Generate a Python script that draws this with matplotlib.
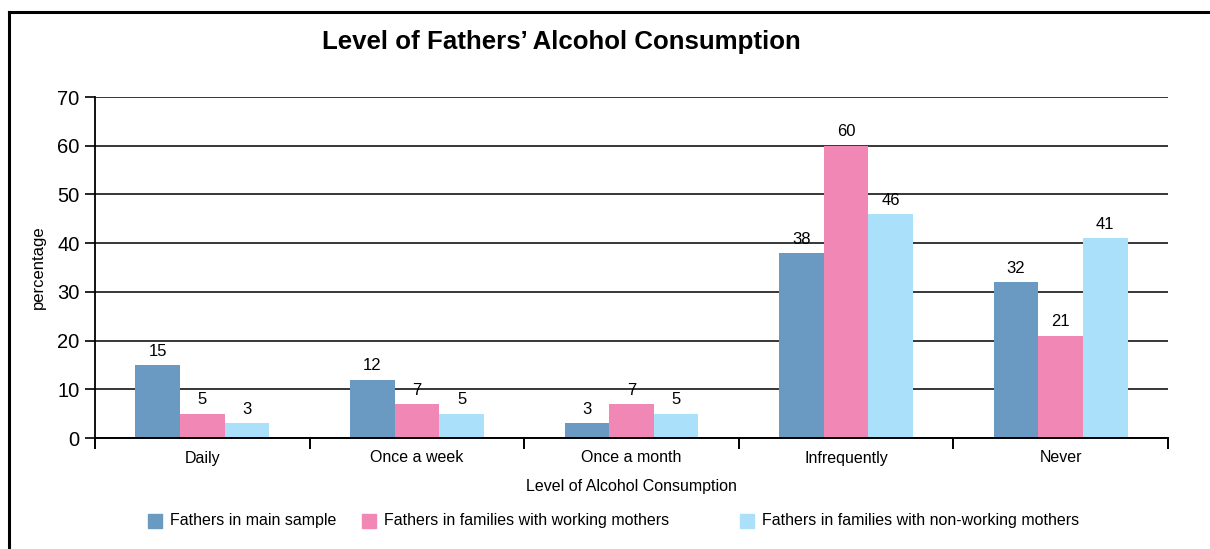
import matplotlib.pyplot as plt
import numpy as np
from matplotlib.lines import Line2D
from matplotlib.patches import Rectangle

plt.rcParams["font.family"] = ["Liberation Sans", "DejaVu Sans"]

categories = ["Daily", "Once a week", "Once a month", "Infrequently", "Never"]
series_names = [
    "Fathers in main sample",
    "Fathers in families with working mothers",
    "Fathers in families with non-working mothers",
]
main_sample = [15, 12, 3, 38, 32]
working_mothers = [5, 7, 7, 60, 21]
non_working_mothers = [3, 5, 5, 46, 41]
y_ticks = [0, 10, 20, 30, 40, 50, 60, 70]

colors = ["#6a9ac2", "#f087b4", "#aae0f9"]

W, H = 1210, 549
fig = plt.figure(figsize=(W / 100, H / 100), dpi=100)

# axes placed in pixel terms to match the reference
left, right, top, bottom = 95, 1168, 97, 438
ax = fig.add_axes([left / W, 1 - bottom / H, (right - left) / W, (bottom - top) / H])

x = np.arange(len(categories))
bw = 0.208
for i, vals in enumerate([main_sample, working_mothers, non_working_mothers]):
    bars = ax.bar(x + (i - 1) * bw, vals, width=bw, color=colors[i], zorder=2)
    for b, v in zip(bars, vals):
        ax.text(b.get_x() + b.get_width() / 2, v + 1.3, str(v),
                ha="center", va="bottom", fontsize=12)

ax.set_xlim(-0.5, len(categories) - 0.5)
ax.set_ylim(0, 70)
ax.set_yticks(y_ticks)
ax.tick_params(axis="y", labelsize=14.5, length=7, width=1.2, pad=4)
ax.yaxis.grid(True, color="black", linewidth=1.1, zorder=0)
ax.set_axisbelow(True)

ax.set_xticks(x)
ax.set_xticklabels(categories, fontsize=11.5)
ax.set_xticks(np.arange(-0.5, len(categories)), minor=True)
ax.tick_params(axis="x", which="major", length=0, pad=9)
ax.tick_params(axis="x", which="minor", length=8, width=1.4, direction="out")

for s in ["top", "right"]:
    ax.spines[s].set_visible(False)
ax.spines["left"].set_linewidth(1.3)
ax.spines["bottom"].set_linewidth(1.4)

ax.set_ylabel("percentage", fontsize=12, labelpad=8)
ax.set_xlabel("Level of Alcohol Consumption", fontsize=11.5, labelpad=10)

fig.text(561 / W, 1 - 42 / H, "Level of Fathers\u2019 Alcohol Consumption",
         ha="center", va="center", fontsize=18.6, fontweight="bold")

# legend drawn by hand to keep the uneven spacing
legend_x = [148, 362, 740]
ly = 521
for lx, name, c in zip(legend_x, series_names, colors):
    fig.add_artist(Rectangle((lx / W, 1 - (ly + 7) / H), 14 / W, 14 / H,
                             transform=fig.transFigure, color=c))
    fig.text((lx + 22) / W, 1 - ly / H, name, ha="left", va="center", fontsize=11.5)

# outer frame (left and top edges)
fig.add_artist(Line2D([9 / W, 9 / W], [0, 1 - 12 / H], color="black", linewidth=2.2,
                      transform=fig.transFigure))
fig.add_artist(Line2D([9 / W, 1], [1 - 12 / H, 1 - 12 / H], color="black", linewidth=2.2,
                      transform=fig.transFigure))

fig.savefig("out.png", dpi=100)
